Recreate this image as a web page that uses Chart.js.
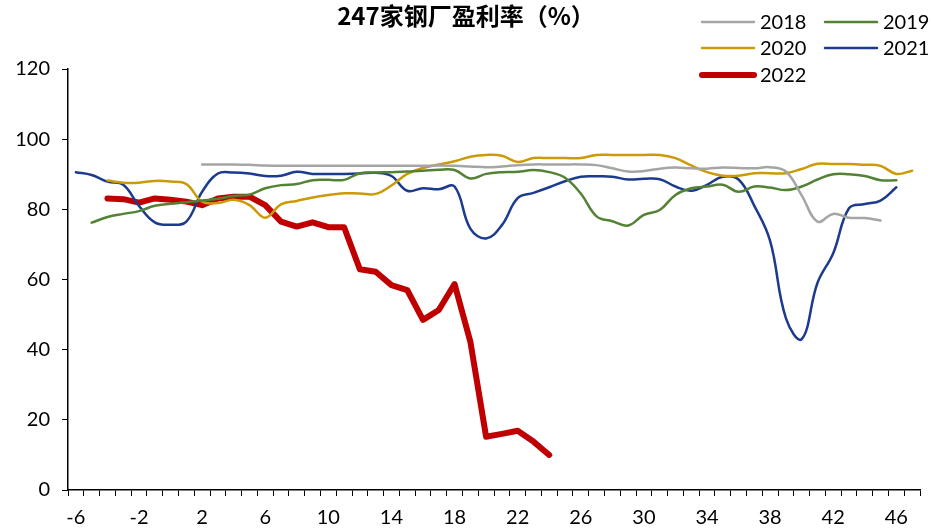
<!DOCTYPE html>
<html>
<head>
<meta charset="utf-8">
<script src="https://cdn.jsdelivr.net/npm/chart.js@4.4.0/dist/chart.umd.min.js"></script>
<style>
  html, body { margin: 0; padding: 0; background: #fff; }
  canvas { display: block; }
</style>
</head>
<body>
<canvas id="chart" width="933" height="531"></canvas>
<script>
'use strict';

// 周次（类别轴）
var weeks = [-6, -5, -4, -3, -2, -1, 0, 1, 2, 3, 4, 5, 6, 7, 8, 9, 10, 11, 12, 13, 14, 15, 16, 17,
  18, 19, 20, 21, 22, 23, 24, 25, 26, 27, 28, 29, 30, 31, 32, 33, 34, 35, 36, 37, 38, 39, 40, 41,
  42, 43, 44, 45, 46, 47];

// 显示的刻度标签
var tickLabels = [-6, -2, 2, 6, 10, 14, 18, 22, 26, 30, 34, 38, 42, 46];

var s2018 = [null, null, null, null, null, null, null, null,
  92.8, 92.8, 92.8, 92.7, 92.5, 92.4, 92.4, 92.4, 92.4, 92.4, 92.4, 92.4, 92.4, 92.4, 92.4, 92.5,
  92.4, 92.2, 92.0, 92.2, 92.6, 92.8, 92.8, 92.8, 92.8, 92.6, 91.7, 90.8, 90.9, 91.6, 91.9, 91.7,
  91.6, 91.9, 91.8, 91.7, 92.0, 90.8, 84.0, 76.5, 78.7, 77.6, 77.5, 76.8,
  null, null];

var s2019 = [null,
  76.2, 77.8, 78.7, 79.5, 81.0, 81.6, 82.0, 82.5, 83.0, 83.8, 84.2, 86.0, 86.9, 87.2, 88.3, 88.4,
  88.4, 90.3, 90.5, 90.6, 90.8, 91.0, 91.3, 91.2, 88.8, 90.1, 90.6, 90.7, 91.2, 90.6, 89.0, 84.5,
  78.0, 76.6, 75.4, 78.4, 79.8, 84.1, 86.0, 86.5, 87.0, 85.0, 86.5, 86.2, 85.5, 86.5, 88.5, 90.0,
  90.0, 89.5, 88.3, 88.3,
  null];

var s2020 = [null, null,
  88.2, 87.6, 87.6, 88.1, 87.9, 87.2, 82.2, 81.8, 82.7, 81.2, 77.6, 81.4, 82.4, 83.4, 84.1, 84.6,
  84.5, 84.4, 86.8, 90.1, 91.8, 92.8, 93.7, 95.0, 95.5, 95.3, 93.5, 94.6, 94.6, 94.6, 94.6, 95.5,
  95.5, 95.5, 95.5, 95.5, 94.6, 92.5, 90.6, 89.6, 89.6, 90.3, 90.3, 90.3, 91.5, 93.0, 92.9, 92.9,
  92.7, 92.4, 90.1, 91.0];

var s2021 = [
  90.6, 89.8, 87.9, 87.0, 81.0, 76.3, 75.6, 76.5, 85.0, 90.2, 90.5, 90.2, 89.5, 89.6, 90.7, 90.1,
  90.1, 90.1, 90.2, 90.4, 89.5, 85.3, 86.0, 85.7, 86.5, 74.5, 71.7, 75.5, 83.2, 84.7, 86.3, 88.0,
  89.3, 89.4, 89.3, 88.5, 88.7, 88.6, 86.5, 85.3, 87.0, 89.3, 88.5, 81.0, 71.0, 49.0, 43.0, 59.0,
  67.5, 80.3, 81.5, 82.5, 86.3,
  null];

var s2022 = [null, null,
  83.1, 82.9, 81.9, 83.1, 82.7, 82.2, 81.2, 83.1, 83.6, 83.6, 81.2, 76.5, 75.1, 76.3, 74.9, 74.9,
  62.9, 62.2, 58.4, 57.0, 48.5, 51.3, 58.7, 42.3, 15.2, 16.0, 16.9, 13.8, 10.0,
  null, null, null, null, null, null, null, null, null, null, null, null, null, null, null, null,
  null, null, null, null, null, null, null];

var seriesNames = ['2018', '2019', '2020', '2021', '2022'];
var seriesColors = ['#A5A5A5', '#548235', '#CC9A06', '#1D3B8E', '#C00000'];

var chartTitle = '247家钢厂盈利率（%）';

var FONT = 'Lato, "Noto Sans", sans-serif';

function lineSet(i, data, width, tension) {
  return {
    label: seriesNames[i],
    data: data,
    borderColor: seriesColors[i],
    backgroundColor: seriesColors[i],
    borderWidth: width,
    tension: tension,
    pointRadius: 0,
    pointHoverRadius: 0,
    fill: false,
    borderCapStyle: 'round',
    borderJoinStyle: 'round'
  };
}

// 标题
var titlePlugin = {
  id: 'titleText',
  afterDraw: function (chart) {
    var ctx = chart.ctx;
    ctx.save();
    ctx.fillStyle = '#000';
    ctx.font = 'bold 24px "Noto Sans CJK SC", sans-serif';
    ctx.textAlign = 'center';
    ctx.textBaseline = 'middle';
    ctx.fillText(chartTitle, 466, 16);
    ctx.restore();
  }
};

// 图例（两列）
var legendPlugin = {
  id: 'legendBox',
  afterDraw: function (chart) {
    var ctx = chart.ctx;
    var cols = [702, 825];
    var rows = [22, 48, 75];
    ctx.save();
    ctx.font = '20px ' + FONT;
    ctx.textBaseline = 'middle';
    ctx.textAlign = 'left';
    for (var i = 0; i < seriesNames.length; i++) {
      var x = cols[i % 2];
      var y = rows[Math.floor(i / 2)];
      var ds = chart.data.datasets[i];
      ctx.strokeStyle = seriesColors[i];
      ctx.lineWidth = i === 4 ? 6 : 2.5;
      ctx.lineCap = 'round';
      ctx.beginPath();
      ctx.moveTo(x, y);
      ctx.lineTo(x + 52, y);
      ctx.stroke();
      ctx.fillStyle = '#000';
      ctx.fillText(ds.label, x + 58, y + 1);
    }
    ctx.restore();
  }
};

new Chart(document.getElementById('chart').getContext('2d'), {
  type: 'line',
  data: {
    labels: weeks,
    datasets: [
      lineSet(0, s2018, 2.5, 0.4),
      lineSet(1, s2019, 2.5, 0.4),
      lineSet(2, s2020, 2.5, 0.4),
      lineSet(3, s2021, 2.5, 0.4),
      lineSet(4, s2022, 6, 0)
    ]
  },
  options: {
    responsive: false,
    animation: false,
    devicePixelRatio: 1,
    layout: { padding: { top: 69, right: 13, left: 0, bottom: 0 } },
    plugins: {
      legend: { display: false },
      title: { display: false },
      tooltip: { enabled: false }
    },
    scales: {
      x: {
        type: 'category',
        offset: true,
        grid: {
          offset: true,
          drawOnChartArea: false,
          drawTicks: true,
          tickLength: 6,
          color: '#000',
          lineWidth: 1
        },
        border: { color: '#000', width: 1.5 },
        ticks: {
          autoSkip: false,
          maxRotation: 0,
          padding: 10,
          color: '#000',
          font: { family: FONT, size: 20 },
          callback: function (value, index) {
            var w = weeks[index];
            return tickLabels.indexOf(w) !== -1 ? String(w) : '';
          }
        },
        afterFit: function (scale) { scale.height = 41; }
      },
      y: {
        min: 0,
        max: 120,
        grid: {
          drawOnChartArea: false,
          drawTicks: true,
          tickLength: 6,
          color: '#000',
          lineWidth: 1
        },
        border: { color: '#000', width: 1.5 },
        ticks: {
          stepSize: 20,
          padding: 12,
          color: '#000',
          font: { family: FONT, size: 20 }
        },
        afterFit: function (scale) { scale.width = 68; }
      }
    }
  },
  plugins: [titlePlugin, legendPlugin]
});
</script>
</body>
</html>
